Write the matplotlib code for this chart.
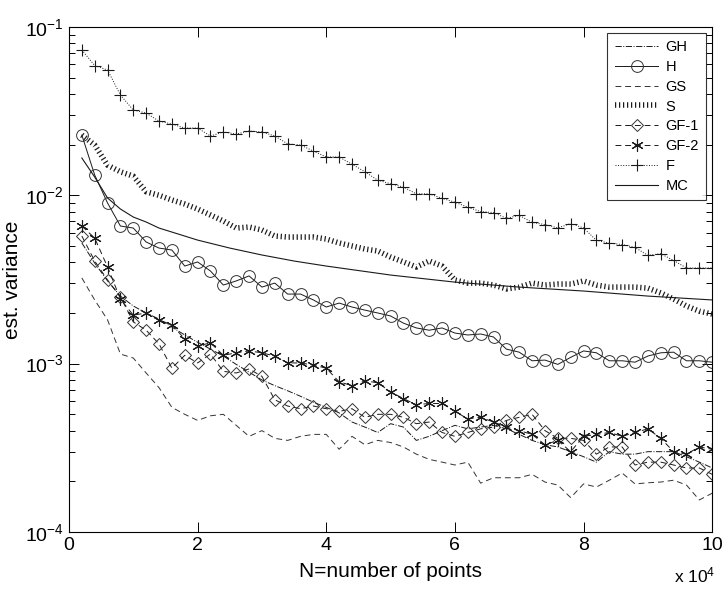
import numpy as np
import matplotlib
matplotlib.use("Agg")
import matplotlib.pyplot as plt
from matplotlib.ticker import LogLocator, NullFormatter, FixedLocator

plt.rcParams['font.family'] = ['Liberation Sans', 'DejaVu Sans']
plt.rcParams['mathtext.fontset'] = 'custom'
plt.rcParams['mathtext.rm'] = 'Liberation Sans'
plt.rcParams['mathtext.it'] = 'Liberation Sans'

# number of points, in units of 1e4
n_pts = np.arange(1, 51) * 0.2

gh = [0.00521, 0.00396, 0.00310, 0.00252, 0.00220, 0.00200, 0.00184, 0.00165, 0.00148, 0.00134,
      0.00122, 0.00111, 0.00099, 0.00089, 0.00080, 0.00074, 0.00069, 0.00064, 0.00059, 0.00055,
      0.00051, 0.00045, 0.00042, 0.00039, 0.00044, 0.00042, 0.00035, 0.00037, 0.00040, 0.00043,
      0.00041, 0.00042, 0.00043, 0.00041, 0.00038, 0.00035, 0.00033, 0.00032, 0.00030, 0.00028,
      0.00026, 0.00030, 0.00029, 0.00029, 0.00030, 0.00030, 0.00030, 0.00028, 0.00026, 0.00024]

h = [0.0228, 0.0132, 0.0090, 0.00657, 0.00639, 0.00528, 0.00486, 0.00473, 0.00380, 0.00402,
     0.00355, 0.00293, 0.00310, 0.00332, 0.00285, 0.00301, 0.00259, 0.00259, 0.00239, 0.00217,
     0.00229, 0.00217, 0.00208, 0.00200, 0.00192, 0.00174, 0.00163, 0.00158, 0.00163, 0.00152,
     0.00148, 0.00150, 0.00144, 0.00122, 0.00117, 0.00104, 0.00105, 0.00099, 0.00109, 0.00119,
     0.00116, 0.00104, 0.00104, 0.00102, 0.00111, 0.00116, 0.00117, 0.00104, 0.00104, 0.00102]

gs = [0.00323, 0.00239, 0.00182, 0.00114, 0.00108, 0.00088, 0.00072, 0.00055, 0.00050, 0.00046,
      0.00049, 0.00050, 0.00043, 0.00037, 0.00040, 0.00036, 0.00035, 0.00037, 0.00038, 0.00038,
      0.00031, 0.00037, 0.00033, 0.00035, 0.00034, 0.00032, 0.00029, 0.00027, 0.00026, 0.00025,
      0.00026, 0.000195, 0.00021, 0.00021, 0.00021, 0.00022, 0.000198, 0.00019, 0.00016, 0.000193,
      0.000185, 0.000203, 0.000224, 0.000193, 0.000196, 0.000198, 0.000203, 0.00019, 0.000155, 0.00017]

s = [0.0228, 0.0199, 0.0151, 0.0138, 0.0130, 0.0105, 0.0100, 0.00938, 0.00888, 0.00829,
     0.00764, 0.00704, 0.00639, 0.00648, 0.00622, 0.00573, 0.00565, 0.00565, 0.00565, 0.00550,
     0.00521, 0.00500, 0.00480, 0.00467, 0.00430, 0.00402, 0.00375, 0.00407, 0.00380, 0.00314,
     0.00301, 0.00301, 0.00293, 0.00278, 0.00285, 0.00301, 0.00293, 0.00297, 0.00297, 0.00310,
     0.00293, 0.00285, 0.00285, 0.00285, 0.00281, 0.00263, 0.00242, 0.00220, 0.00205, 0.00197]

gf1 = [0.00573, 0.00407, 0.00314, 0.00249, 0.00177, 0.00158, 0.00131, 0.00094, 0.00112, 0.00101,
       0.00114, 0.00090, 0.00088, 0.00093, 0.00084, 0.00061, 0.00056, 0.00054, 0.00056, 0.00054,
       0.00052, 0.00054, 0.00048, 0.00050, 0.00050, 0.00048, 0.00044, 0.00045, 0.00039, 0.00037,
       0.00039, 0.00041, 0.00042, 0.00046, 0.00048, 0.00050, 0.00040, 0.00036, 0.00036, 0.00035,
       0.00029, 0.00032, 0.00032, 0.00025, 0.00026, 0.00026, 0.00025, 0.00024, 0.00024, 0.00022]

gf2 = [0.00657, 0.00557, 0.00375, 0.00242, 0.00194, 0.00200, 0.00182, 0.00170, 0.00140, 0.00127,
       0.00133, 0.00112, 0.00116, 0.00119, 0.00116, 0.00111, 0.00101, 0.00101, 0.00098, 0.00094,
       0.00078, 0.00074, 0.00079, 0.00077, 0.00068, 0.00062, 0.00057, 0.00058, 0.00058, 0.00052,
       0.00047, 0.00048, 0.00045, 0.00042, 0.00040, 0.00038, 0.00033, 0.00035, 0.00030, 0.00037,
       0.00038, 0.00039, 0.00037, 0.00039, 0.00041, 0.00036, 0.00030, 0.00029, 0.00032, 0.00031]

f = [0.073, 0.059, 0.0555, 0.0394, 0.0321, 0.0308, 0.0276, 0.0265, 0.0251, 0.0251,
     0.0225, 0.0238, 0.0231, 0.0241, 0.0238, 0.0225, 0.0202, 0.0199, 0.0183, 0.0169,
     0.0169, 0.0153, 0.0138, 0.0123, 0.0117, 0.0112, 0.0102, 0.0102, 0.0096, 0.0091,
     0.0085, 0.0080, 0.0079, 0.0073, 0.0076, 0.0069, 0.0067, 0.0064, 0.0068, 0.0064,
     0.0054, 0.0052, 0.0051, 0.0049, 0.0044, 0.0045, 0.0041, 0.0037, 0.0037, 0.0037]

mc_x = [0.2, 0.4, 0.6, 0.8, 1.0, 1.2, 1.4, 1.6, 2.0, 2.5, 3.0, 3.5, 4.0, 5.0, 6.0, 7.0, 8.0, 9.0, 10.0]
mc = [0.01666, 0.01284, 0.00964, 0.00829, 0.00743, 0.00694, 0.00639, 0.00605, 0.00542, 0.00486,
      0.00442, 0.00407, 0.00380, 0.00336, 0.00305, 0.00285, 0.00270, 0.00252, 0.00239]

fig = plt.figure(figsize=(7.26, 5.89), dpi=100)
ax = fig.add_axes([0.095, 0.0968, 0.886, 0.8574])

k = '#1a1a1a'
ax.plot(n_pts, gh, color=k, lw=0.7, ls='-.', label='GH')
ax.plot(n_pts, h, color=k, lw=0.7, ls='-', marker='o', ms=8.5, mfc='none', mec='#333333', mew=0.7, label='H')
ax.plot(n_pts, gs, color='#333333', lw=0.7, ls=(0, (6, 4)), label='GS')
ax.plot(n_pts, s, color=k, lw=4.0, ls=(0, (0.22, 0.5)), dash_capstyle='butt', label='S')
ax.plot(n_pts, gf1, color=k, lw=0.7, ls=(0, (6, 4)), marker='D', ms=6, mfc='none', mec='#333333', mew=0.7, label='GF-1')
ax.plot(n_pts, gf2, color=k, lw=0.7, ls=(0, (6, 4)), marker=(6, 2, 0), ms=9, mec=k, mew=0.8, label='GF-2')
ax.plot(n_pts, f, color=k, lw=0.7, ls=':', marker='+', ms=9, mec=k, mew=0.8, label='F')
ax.plot(mc_x, mc, color=k, lw=0.8, ls='-', label='MC')

ax.set_yscale('log')
ax.set_xlim(0, 10)
ax.set_ylim(1e-4, 1e-1)
ax.xaxis.set_major_locator(FixedLocator([0, 2, 4, 6, 8, 10]))
ax.set_xticklabels(['0', '2', '4', '6', '8', '10'])
ax.yaxis.set_major_locator(LogLocator(base=10, numticks=10))
ax.yaxis.set_minor_locator(LogLocator(base=10, subs=np.arange(2, 10), numticks=20))
ax.yaxis.set_minor_formatter(NullFormatter())
ax.tick_params(which='both', direction='in', top=True, right=True, labelsize=14, width=0.7)
ax.tick_params(which='major', length=7)
ax.tick_params(which='minor', length=4)
for sp in ax.spines.values():
    sp.set_linewidth(0.8)

ax.set_xlabel('N=number of points', fontsize=15, labelpad=6)
ax.set_ylabel('est. variance', fontsize=15, labelpad=2)
fig.text(0.985, 0.006, r'x 10$^4$', ha='right', va='bottom', fontsize=12.5)

leg = ax.legend(loc='upper right', fontsize=10.5, frameon=True, fancybox=False,
                edgecolor='black', borderaxespad=0.4, handlelength=3.0, labelspacing=0.4,
                borderpad=0.5, handletextpad=0.5)
leg.get_frame().set_linewidth(0.8)

fig.savefig('out.png', dpi=100)
